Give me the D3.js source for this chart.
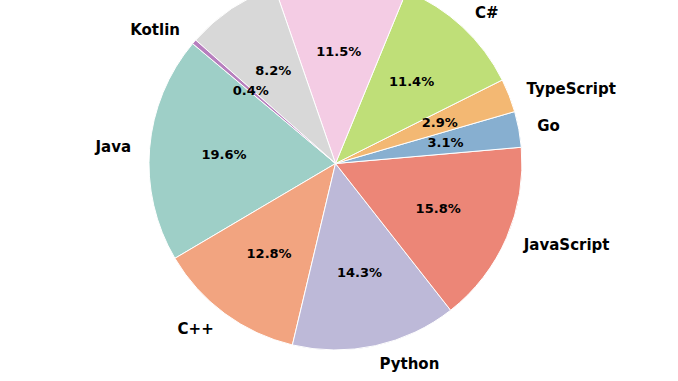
<!DOCTYPE html>
<html lang="en">
<head>
    <meta charset="UTF-8">
    <title>languages pie</title>
    <script src="https://cdn.jsdelivr.net/npm/d3@7"></script>
    <style>
        body { margin: 0; background: #fff; }
        svg { display: block; }
    </style>
</head>
<body>
<div id="pie"></div>
<script type="text/javascript">
    // slice order as drawn (counter-clockwise from 140 deg)
    var languages = ["Java", "C++", "Python", "JavaScript", "Go", "TypeScript", "C#", "PHP", "Rust", "Kotlin"];
    var shares = [19.6, 12.8, 14.3, 15.8, 3.1, 2.9, 11.4, 11.5, 8.2, 0.4];
    var colors = ["#9ecfc7", "#f2a480", "#bdb9d8", "#ec8677", "#87afd0", "#f3b873", "#bfdf78", "#f4cce4", "#d8d8d8", "#b77fbe"];

    var w = 678;
    var h = 381;
    var cx = 335.5, cy = 163.5, r = 186.5;

    var svg = d3.select("#pie")
        .append("svg")
        .attr("width", w)
        .attr("height", h);

    var g = svg.append("g")
        .attr("transform", "translate(" + cx + "," + cy + ")");

    // math angle 140deg -> d3 angle (clockwise from 12 o'clock)
    var start = (90 - 140) * Math.PI / 180;
    var pie = d3.pie()
        .sort(null)
        .value(function(d) { return d; })
        .startAngle(start)
        .endAngle(start - 2 * Math.PI);

    var arc = d3.arc().innerRadius(0).outerRadius(r);
    var arcs = pie(shares);

    g.selectAll(".slice")
        .data(arcs)
        .enter()
        .append("path")
        .attr("class", "slice")
        .attr("d", arc)
        .attr("fill", function(d, i) { return colors[i]; })
        .attr("stroke", "#fff")
        .attr("stroke-width", 1);

    function mid(d) { return (d.startAngle + d.endAngle) / 2; }

    // percentages at 0.6 r
    g.selectAll(".pct")
        .data(arcs)
        .enter()
        .append("text")
        .attr("class", "pct")
        .attr("x", function(d) { return Math.sin(mid(d)) * r * 0.6; })
        .attr("y", function(d) { return -Math.cos(mid(d)) * r * 0.6; })
        .attr("text-anchor", "middle")
        .attr("dominant-baseline", "central")
        .style("font-family", "'DejaVu Sans', sans-serif")
        .style("font-weight", "bold")
        .style("font-size", "13px")
        .text(function(d) { return d3.format(".1f")(d.data) + "%"; });

    // names at 1.1 r; the ones that land above the top edge are not in view
    var named = arcs.map(function(d, i) { return {arc: d, name: languages[i]}; })
        .filter(function(d) { return cy - Math.cos(mid(d.arc)) * r * 1.1 > 0; });

    g.selectAll(".name")
        .data(named)
        .enter()
        .append("text")
        .attr("class", "name")
        .attr("x", function(d) { return Math.sin(mid(d.arc)) * r * 1.1; })
        .attr("y", function(d) { return -Math.cos(mid(d.arc)) * r * 1.1; })
        .attr("text-anchor", function(d) { return Math.sin(mid(d.arc)) > 0 ? "start" : "end"; })
        .attr("dominant-baseline", "central")
        .style("font-family", "'DejaVu Sans', sans-serif")
        .style("font-weight", "bold")
        .style("font-size", "15px")
        .text(function(d) { return d.name; });
</script>
</body>
</html>
